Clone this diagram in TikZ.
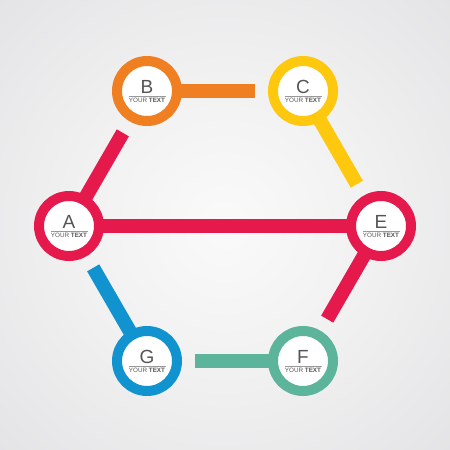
\documentclass[tikz,border=0pt]{standalone}
\usepackage{fontspec}
\setmainfont{Liberation Sans}
\usetikzlibrary{calc}
\definecolor{bgc0}{HTML}{FAFAFA}
\definecolor{bgc1}{HTML}{F0F0F1}
\definecolor{bgc2}{HTML}{DADADC}
\definecolor{bgc3}{HTML}{C8C8CA}
\definecolor{cOrange}{HTML}{F07F22}
\definecolor{cYellow}{HTML}{FDC80E}
\definecolor{cRed}{HTML}{E5194C}
\definecolor{cBlue}{HTML}{1193CF}
\definecolor{cGreen}{HTML}{5CB49B}
\definecolor{txt}{HTML}{555555}
\pgfdeclareradialshading{bgshade}{\pgfpoint{0bp}{0bp}}{color(0bp)=(bgc0); color(18bp)=(bgc1); color(50bp)=(bgc2); color(71bp)=(bgc3)}
\begin{document}
\begin{tikzpicture}[x=1pt,y=-1pt,
  bar/.style={line width=14pt},
  ring/.style={circle, minimum size=60pt, inner sep=0pt, line width=10pt, draw=#1, fill=white},
  letter/.style={anchor=base, text=txt, font=\fontsize{19}{19}\selectfont},
  small/.style={anchor=base, text=txt, font=\fontsize{6.3}{7}\selectfont, inner sep=0pt},
  rule/.style={draw=txt!60, line width=0.6pt}]
\shade[shading=bgshade] (0,0) rectangle (450,450);
\useasboundingbox (0,0) rectangle (450,450);
\coordinate (pA) at (69,226);
\coordinate (pB) at (147,91);
\coordinate (pC) at (303,91);
\coordinate (pE) at (381,226);
\coordinate (pF) at (303,361);
\coordinate (pG) at (147,361);
% connectors
\draw[bar, cRed] (pA) -- ($(pA)!0.69!(pB)$);
\draw[bar, cOrange] (pB) -- ($(pB)!0.69!(pC)$);
\draw[bar, cYellow] (pC) -- ($(pC)!0.69!(pE)$);
\draw[bar, cRed] (pE) -- ($(pE)!0.69!(pF)$);
\draw[bar, cGreen] (pF) -- ($(pF)!0.69!(pG)$);
\draw[bar, cBlue] (pG) -- ($(pG)!0.69!(pA)$);
\draw[bar, cRed] (pA) -- (pE);
% rings
\foreach \n/\c in {A/cRed, B/cOrange, C/cYellow, E/cRed, F/cGreen, G/cBlue}{
  \node[ring=\c] (\n) at (p\n) {};
  \node[letter] (\n-l) at ($(p\n)+(0,2)$) {\n};
  \draw[rule] ($(p\n)+(-18.5,4.8)$) -- ($(p\n)+(18.5,4.8)$);
  \node[small] (\n-t) at ($(p\n)+(0,11.8)$) {YOUR \textbf{TEXT}};
}
\end{tikzpicture}
\end{document}
